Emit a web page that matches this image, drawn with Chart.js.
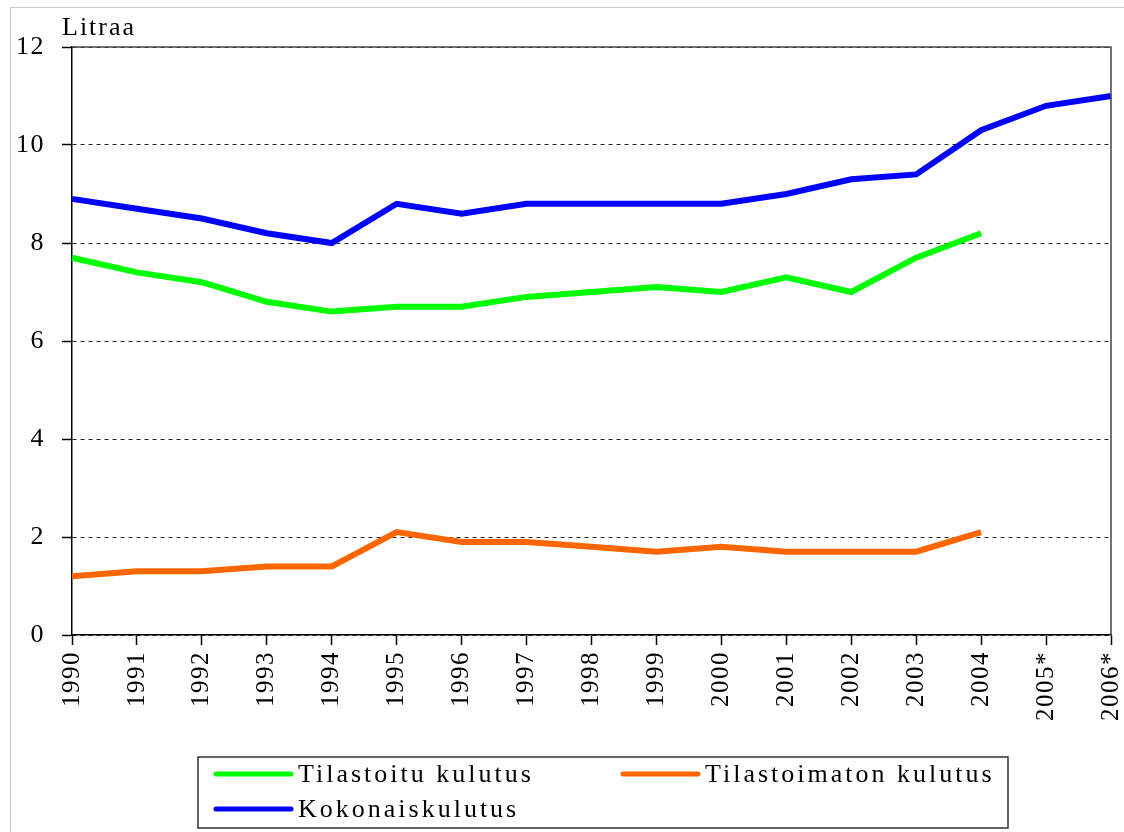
<!DOCTYPE html>
<html>
<head>
<meta charset="utf-8">
<script src="https://cdn.jsdelivr.net/npm/chart.js@4/dist/chart.umd.min.js"></script>
<style>
  html, body { margin: 0; padding: 0; background: #ffffff; }
  #wrap { position: relative; width: 1124px; height: 832px; overflow: hidden; }
  #frame { position: absolute; left: 10px; top: 7px; width: 1130px; height: 840px; border: 1px solid #cccccc; }
  canvas { position: absolute; left: 0; top: 0; }
</style>
</head>
<body>
<div id="wrap">
  <div id="frame"></div>
  <canvas id="c" width="1124" height="832"></canvas>
</div>
<script>
const years = ["1990", "1991", "1992", "1993", "1994", "1995", "1996", "1997", "1998",
  "1999", "2000", "2001", "2002", "2003", "2004", "2005*", "2006*"];

const tilastoitu = [7.7, 7.4, 7.2, 6.8, 6.6, 6.7, 6.7, 6.9, 7.0, 7.1, 7.0, 7.3, 7.0, 7.7, 8.2, null, null];
const tilastoimaton = [1.2, 1.3, 1.3, 1.4, 1.4, 2.1, 1.9, 1.9, 1.8, 1.7, 1.8, 1.7, 1.7, 1.7, 2.1, null, null];
const kokonais = [8.9, 8.7, 8.5, 8.2, 8.0, 8.8, 8.6, 8.8, 8.8, 8.8, 8.8, 9.0, 9.3, 9.4, 10.3, 10.8, 11.0];

const unitLabel = "Litraa";

const FONT = "'Liberation Serif', 'Times New Roman', serif";

function line(label, data, color) {
  return {
    label: label,
    data: data,
    borderColor: color,
    backgroundColor: color,
    borderWidth: 6,
    pointRadius: 0,
    tension: 0,
    spanGaps: false
  };
}

// frame on top/right, unit label and the boxed legend under the axis
const decorations = {
  id: "decorations",
  beforeDraw(chart) {
    chart.ctx.letterSpacing = "1.5px";
  },
  afterDraw(chart) {
    const ctx = chart.ctx;
    const a = chart.chartArea;
    ctx.save();
    ctx.strokeStyle = "#444444";
    ctx.lineWidth = 1.5;
    ctx.beginPath();
    ctx.moveTo(a.left, a.top);
    ctx.lineTo(a.right, a.top);
    ctx.lineTo(a.right, a.bottom);
    ctx.stroke();

    ctx.fillStyle = "#000000";
    ctx.font = "26px " + FONT;
    ctx.letterSpacing = "2px";
    ctx.textAlign = "left";
    ctx.textBaseline = "alphabetic";
    ctx.fillText(unitLabel, 62, 35);

    // legend box
    const box = { x: 198, y: 757, w: 810, h: 71 };
    ctx.strokeStyle = "#333333";
    ctx.lineWidth = 1.5;
    ctx.strokeRect(box.x, box.y, box.w, box.h);

    const spots = [
      { x: 216, y: 774 },
      { x: 623, y: 774 },
      { x: 216, y: 809 }
    ];
    ctx.font = "26px " + FONT;
    ctx.letterSpacing = "3px";
    ctx.textBaseline = "middle";
    ctx.lineCap = "round";
    chart.data.datasets.forEach((ds, i) => {
      const p = spots[i];
      ctx.strokeStyle = ds.borderColor;
      ctx.lineWidth = 5;
      ctx.beginPath();
      ctx.moveTo(p.x, p.y);
      ctx.lineTo(p.x + 75, p.y);
      ctx.stroke();
      ctx.fillStyle = "#000000";
      ctx.fillText(ds.label, p.x + 82, p.y + 1);
    });
    ctx.restore();
  }
};

new Chart(document.getElementById("c"), {
  type: "line",
  data: {
    labels: years,
    datasets: [
      line("Tilastoitu kulutus", tilastoitu, "#00ff00"),
      line("Tilastoimaton kulutus", tilastoimaton, "#ff6600"),
      line("Kokonaiskulutus", kokonais, "#0000ff")
    ]
  },
  options: {
    responsive: false,
    animation: false,
    layout: { padding: { left: 0, top: 47, right: 13, bottom: 0 } },
    plugins: {
      legend: { display: false },
      tooltip: { enabled: false }
    },
    scales: {
      x: {
        offset: false,
        afterFit(scale) {
          scale.height = 197;
          scale.paddingLeft = 0;
          scale.paddingRight = 0;
        },
        grid: {
          drawOnChartArea: false,
          drawTicks: true,
          tickLength: 10,
          tickColor: "#000000",
          tickWidth: 1.5
        },
        border: { display: true, color: "#000000", width: 1.5 },
        ticks: {
          minRotation: 90,
          maxRotation: 90,
          autoSkip: false,
          padding: 6,
          color: "#000000",
          font: { family: FONT, size: 25 }
        }
      },
      y: {
        min: 0,
        max: 12,
        afterFit(scale) {
          scale.width = 72;
          scale.paddingTop = 0;
          scale.paddingBottom = 0;
        },
        grid: {
          color: "#222222",
          lineWidth: 1,
          tickLength: 10,
          tickColor: "#000000",
          tickWidth: 1.5,
          tickBorderDash: []
        },
        border: { display: true, color: "#000000", width: 1.5, dash: [4, 4] },
        ticks: {
          stepSize: 2,
          padding: 17,
          color: "#000000",
          font: { family: FONT, size: 26 }
        }
      }
    }
  },
  plugins: [decorations]
});
</script>
</body>
</html>
